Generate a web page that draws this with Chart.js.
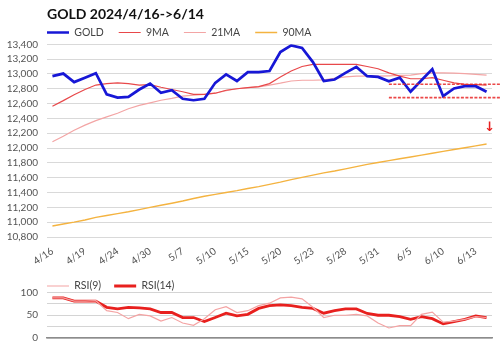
<!DOCTYPE html>
<html>
<head>
<meta charset="utf-8">
<script src="https://cdn.jsdelivr.net/npm/chart.js@4.4.1/dist/chart.umd.min.js"></script>
<style>
  body { margin: 0; background: #fff; }
  #main { position: absolute; left: 0; top: 0; width: 500px; height: 270px; }
  #rsi { position: absolute; left: 0; top: 270px; width: 500px; height: 73px; }
</style>
</head>
<body>
<div id="main"><canvas id="mainChart"></canvas></div>
<div id="rsi"><canvas id="rsiChart"></canvas></div>
<script>
// trading days 4/16 -> 6/14
const dates = ["4/16","4/17","4/18","4/19","4/22","4/23","4/24","4/25","4/26","4/30",
  "5/1","5/2","5/7","5/8","5/9","5/10","5/13","5/14","5/15","5/16",
  "5/17","5/20","5/21","5/22","5/23","5/24","5/27","5/28","5/29","5/30",
  "5/31","6/3","6/4","6/5","6/6","6/7","6/10","6/11","6/12","6/13","6/14"];

const gold = [12970,13005,12890,12950,13010,12725,12680,12690,12790,12870,
  12745,12780,12665,12645,12665,12880,12995,12905,13025,13025,
  13040,13295,13385,13350,13160,12905,12925,13015,13095,12970,
  12960,12900,12950,12760,12915,13065,12700,12805,12835,12835,12760];

const ma9 = [12565,12640,12720,12790,12850,12870,12880,12870,12850,12855,
  12820,12790,12760,12725,12725,12740,12780,12800,12815,12830,
  12870,12960,13040,13100,13130,13130,13130,13130,13130,13100,
  13070,13015,12970,12935,12935,12950,12915,12880,12860,12855,12850];

const ma21 = [12085,12160,12240,12310,12370,12420,12470,12530,12575,12610,
  12645,12670,12700,12715,12725,12740,12775,12800,12815,12825,
  12850,12875,12905,12915,12915,12920,12940,12960,12970,12970,
  12970,12975,12980,12985,13005,13015,13015,13010,13005,12995,12985];

const ma90 = [10948,10975,11000,11030,11065,11090,11115,11140,11170,11200,
  11228,11255,11285,11320,11350,11375,11400,11425,11455,11480,
  11510,11540,11575,11605,11635,11665,11690,11720,11750,11780,
  11805,11830,11855,11880,11905,11930,11955,11980,12005,12030,12055];

const rsi9 = [88,88,81,81,82,60,56,42.5,52,48.5,
  37,45,33,28,42.5,62,69,56,60,71,
  76.5,88,90,86,67.5,45,50,50,52,48.5,
  33,22,27,27,52,57,35,37,41,47,45];

const rsi14 = [88,88,81,81,81,67.5,64,67.5,66,64,
  56,56,45,45,36,45,54.5,48.5,52,65,
  71,73,71,67.5,65,54.5,60,64,64,54,
  50,50,47,41,47,42.5,31,36,41,48.5,45];

// dashed levels drawn from 6/3 to the right edge
const levelStart = "6/3";
const levelValues = [12860, 12680];
const arrowValue = 12270;

const family = "Lato, 'Open Sans', sans-serif";
const legendFont = 10.5;

// move title / legend so they line up with the plot's left edge
const nudge = {
  id: 'nudge',
  afterLayout(chart, args, opts) {
    const left = chart.chartArea.left;
    if (chart.titleBlock) chart.titleBlock.left = left;
    const lg = chart.legend;
    const pad = lg.options.labels.padding;
    lg.left = left - pad;
    lg.top = opts.legendY - pad - legendFont / 2;
  }
};

const levels = {
  id: 'levels',
  afterDatasetsDraw(chart) {
    const { ctx, scales: { x, y } } = chart;
    const x0 = x.getPixelForValue(dates.indexOf(levelStart));
    ctx.save();
    ctx.strokeStyle = 'rgba(232,40,40,0.85)';
    ctx.lineWidth = 1.6;
    ctx.setLineDash([3, 1.5]);
    levelValues.forEach(v => {
      const py = y.getPixelForValue(v);
      ctx.beginPath();
      ctx.moveTo(x0, py);
      ctx.lineTo(chart.width, py);
      ctx.stroke();
    });
    ctx.setLineDash([]);
    ctx.fillStyle = '#e82020';
    ctx.font = "bold 13px 'DejaVu Sans'";
    ctx.textAlign = 'center';
    ctx.textBaseline = 'middle';
    ctx.fillText('↓', x.getPixelForValue(dates.length - 1) + 3, y.getPixelForValue(arrowValue));
    ctx.restore();
  }
};

const legendLabels = (pad) => ({
  usePointStyle: true,
  pointStyle: 'line',
  pointStyleWidth: 22,
  padding: pad,
  color: '#444',
  font: { family, size: legendFont }
});

// fixed axis width, no extra vertical padding from tick labels
const fitY = s => {
  s.width = 47;
  s.paddingTop = 0;
  s.paddingBottom = 0;
};

new Chart(document.getElementById('mainChart'), {
  type: 'line',
  data: {
    labels: dates,
    datasets: [
      { label: 'GOLD', data: gold, borderColor: '#1717d6', borderWidth: 2.7 },
      { label: '9MA', data: ma9, borderColor: '#e8484a', borderWidth: 1.2 },
      { label: '21MA', data: ma21, borderColor: '#f3a5a5', borderWidth: 1.2 },
      { label: '90MA', data: ma90, borderColor: '#f4b340', borderWidth: 1.4 },
    ],
  },
  options: {
    responsive: true,
    maintainAspectRatio: false,
    animation: false,
    elements: { point: { radius: 0 }, line: { tension: 0 } },
    layout: { padding: { left: 0, right: 8, top: 0, bottom: 0 } },
    plugins: {
      title: {
        display: true,
        text: 'GOLD 2024/4/16->6/14',
        align: 'start',
        color: '#111',
        font: { family, size: 14, weight: 'bold' },
        padding: { top: 6, bottom: -14 },
      },
      legend: { align: 'start', labels: legendLabels(15) },
      tooltip: { enabled: false },
      nudge: { legendY: 32.5 },
    },
    scales: {
      x: {
        offset: true,
        grid: { display: false },
        border: { display: false },
        ticks: {
          autoSkip: false,
          minRotation: 35,
          maxRotation: 35,
          padding: 0,
          color: '#555',
          font: { family, size: 10 },
          callback: (v, i) => (i % 3 === 0 ? dates[i] : ''),
        },
        afterFit: s => { s.height = 33; },
      },
      y: {
        min: 10800,
        max: 13400,
        ticks: { stepSize: 200, autoSkip: false, padding: 9, color: '#555', font: { family, size: 10 } },
        grid: { color: '#d9d9d9', drawTicks: false },
        border: { display: false },
        afterFit: fitY,
      },
    },
  },
  plugins: [nudge, levels],
});

new Chart(document.getElementById('rsiChart'), {
  type: 'line',
  data: {
    labels: dates,
    datasets: [
      { label: 'RSI(9)', data: rsi9, borderColor: '#f4a3a3', borderWidth: 1.2 },
      { label: 'RSI(14)', data: rsi14, borderColor: '#e8201e', borderWidth: 2.8 },
    ],
  },
  options: {
    responsive: true,
    maintainAspectRatio: false,
    animation: false,
    elements: { point: { radius: 0 }, line: { tension: 0 } },
    layout: { padding: { left: 0, right: 8, top: -11, bottom: 5 } },
    plugins: {
      legend: { align: 'start', labels: legendLabels(13) },
      tooltip: { enabled: false },
      nudge: { legendY: 16 },
    },
    scales: {
      x: {
        offset: true,
        ticks: { display: false },
        grid: { display: false },
        border: { display: true, color: '#8c8c8c', width: 1.5 },
        afterFit: s => { s.height = 0; },
      },
      y: {
        min: 0,
        max: 100,
        ticks: {
          stepSize: 25,
          autoSkip: false,
          padding: 9,
          color: '#555',
          font: { family, size: 10 },
          callback: v => (v % 50 === 0 ? v : ''),
        },
        grid: { color: '#d4d4d4', drawTicks: false },
        border: { display: false },
        afterFit: fitY,
      },
    },
  },
  plugins: [nudge],
});
</script>
</body>
</html>
